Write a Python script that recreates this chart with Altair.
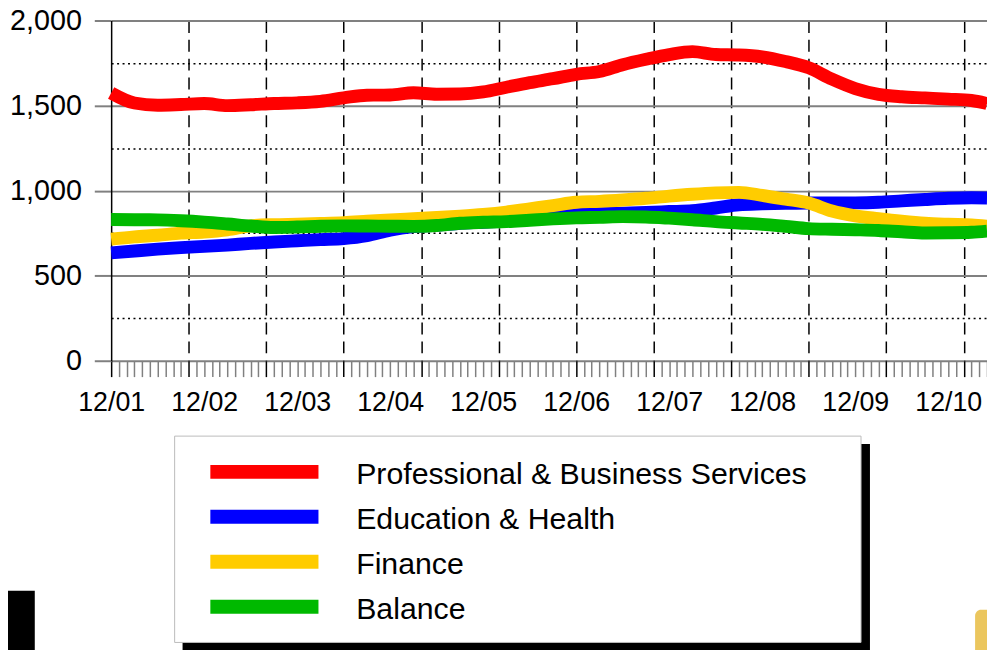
import json
import altair as alt
import pandas as pd

# ---------------- data ----------------
series_names = ["Professional & Business Services", "Education & Health", "Finance", "Balance"]
series_colors = ["#FF0000", "#0000FF", "#FFCC00", "#00B900"]

# month index: 0 = Dec 2001, 113 = May 2011
months = list(range(0, 112, 3)) + [113]

prof = [1574, 1515, 1502, 1506, 1512, 1500, 1505, 1512, 1516, 1525, 1545, 1561, 1562,
        1575, 1567, 1568, 1580, 1608, 1635, 1658, 1684, 1700, 1740, 1772, 1800, 1817,
        1800, 1797, 1786, 1759, 1722, 1655, 1600, 1566, 1552, 1545, 1538, 1530, 1512]
edu = [634, 645, 656, 665, 672, 680, 690, 698, 705, 712, 718, 735, 768,
       788, 796, 808, 814, 822, 834, 848, 858, 864, 868, 872, 877, 882,
       898, 917, 922, 925, 927, 927, 928, 932, 940, 948, 955, 958, 957]
fin = [715, 728, 738, 750, 757, 770, 793, 800, 803, 807, 812, 820, 828,
       835, 842, 850, 860, 874, 893, 912, 932, 937, 945, 955, 968, 979,
       987, 990, 972, 950, 927, 880, 852, 835, 820, 808, 802, 798, 790]
bal = [830, 829, 828, 823, 815, 804, 792, 783, 786, 791, 793, 792, 791,
       790, 795, 808, 814, 818, 826, 834, 840, 843, 847, 845, 838, 829,
       818, 810, 802, 790, 777, 773, 770, 766, 758, 751, 752, 755, 762]

x_tick_labels = ["12/01", "12/02", "12/03", "12/04", "12/05",
                 "12/06", "12/07", "12/08", "12/09", "12/10"]
y_ticks = [0, 250, 500, 750, 1000, 1250, 1500, 1750, 2000]

rows = []
for name, vals in zip(series_names, [prof, edu, fin, bal]):
    for m, v in zip(months, vals):
        rows.append({"series": name, "month": m, "value": v})
df = pd.DataFrame(rows)
legend_df = pd.DataFrame({"series": series_names})
deco = pd.DataFrame({"k": [0]})

W, H = 883, 343
FONT = "Liberation Sans, Arial, sans-serif"

x_scale = alt.Scale(domain=[0, 113], nice=False, zero=False)
y_scale = alt.Scale(domain=[0, 2000], nice=False)
color_scale = alt.Scale(domain=series_names, range=series_colors)

x_axis = alt.Axis(
    values=list(range(0, 114)), title=None,
    labelExpr="datum.value % 12 === 0 ? " + json.dumps(x_tick_labels) + "[datum.value / 12] : ''",
    labelFont=FONT,
    labelFontSize=27, labelColor="black", labelPadding=13,
    labelOverlap=False, labelFlush=False,
    tickSize=16, tickWidth=1.5,
    tickColor={"condition": {"test": "datum.value % 10 === 0", "value": "black"}, "value": "#808080"},
    domain=False,
    grid=True, gridColor="black", gridDash=[12, 7], gridWidth=1.5,
    gridOpacity={"condition": {"test": "datum.value % 10 === 0 && datum.value > 0", "value": 1}, "value": 0},
)
y_axis = alt.Axis(
    values=y_ticks, title=None,
    labelExpr="datum.value % 500 === 0 ? format(datum.value, ',') : ''",
    labelFont=FONT, labelFontSize=29, labelColor="black", labelPadding=13,
    tickSize=17, tickWidth=2, tickColor="#808080",
    tickOpacity={"condition": {"test": "datum.value % 500 === 0", "value": 1}, "value": 0},
    domain=True, domainColor="black", domainWidth=1.5,
    grid=True,
    gridColor={"condition": {"test": "datum.value % 500 === 0", "value": "#808080"}, "value": "black"},
    gridWidth={"condition": {"test": "datum.value % 500 === 0", "value": 2}, "value": 1.5},
    gridDash={"condition": {"test": "datum.value % 500 === 0", "value": []}, "value": [2, 3.5]},
)

lines = []
for name in series_names:
    lines.append(
        alt.Chart(df).transform_filter(alt.datum.series == name)
        .mark_line(strokeWidth=13, strokeCap="butt", strokeJoin="round", interpolate="monotone")
        .encode(
            x=alt.X("month:Q", scale=x_scale, axis=x_axis),
            y=alt.Y("value:Q", scale=y_scale, axis=y_axis),
            color=alt.Color("series:N", scale=color_scale, legend=None),
        )
    )
main = alt.layer(*lines)

# ---------------- legend box (drawn by hand) ----------------
leg_y = alt.Y("series:N", scale=alt.Scale(type="point", domain=series_names, range=[455, 591], padding=0), axis=None)

shadow = alt.Chart(deco).mark_rect(color="black").encode(
    x=alt.value(72), x2=alt.value(765), y=alt.value(427), y2=alt.value(640))
box = alt.Chart(deco).mark_rect(fill="white", stroke="#BBBBBB", strokeWidth=1).encode(
    x=alt.value(64), x2=alt.value(756), y=alt.value(419), y2=alt.value(627))
swatch = alt.Chart(legend_df).mark_rule(strokeWidth=14, strokeCap="butt").encode(
    x=alt.value(100), x2=alt.value(209), y=leg_y,
    color=alt.Color("series:N", scale=color_scale, legend=None))
labels = alt.Chart(legend_df).mark_text(align="left", baseline="middle", fontSize=30.5, font=FONT,
                                        color="black", dy=3).encode(
    x=alt.value(247), y=leg_y, text="series:N")

logo = alt.Chart(deco).mark_rect(color="black").encode(
    x=alt.value(-104), x2=alt.value(-77), y=alt.value(575), y2=alt.value(640))
corner = alt.Chart(deco).mark_rect(color="#EBC65E", cornerRadiusTopLeft=6).encode(
    x=alt.value(871), x2=alt.value(883), y=alt.value(594), y2=alt.value(640))

legend = alt.layer(shadow, box, swatch, labels, logo, corner)

chart = alt.layer(main, legend).resolve_scale(y="independent").properties(
    width=W, height=H,
    autosize=alt.AutoSizeParams(type="none"),
    padding={"left": 104, "top": 10, "right": 0, "bottom": 289},
    background="white",
).configure_view(stroke=None)

chart.save("out.html", embed_options={"renderer": "svg", "actions": False})
